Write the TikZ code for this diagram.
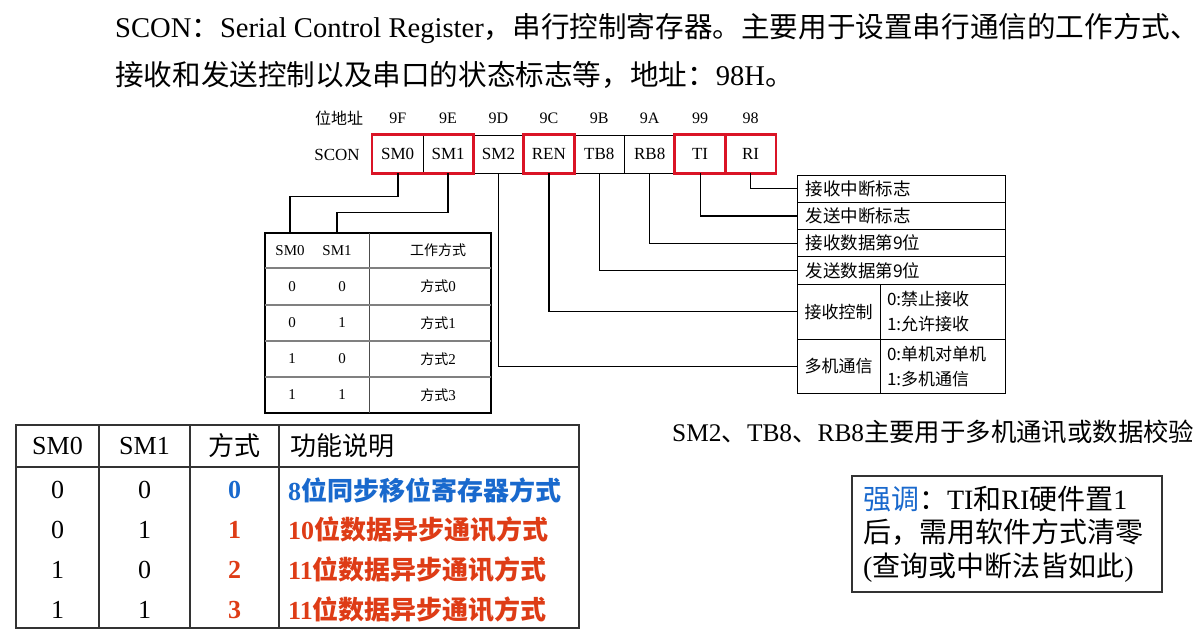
\documentclass[tikz,border=0pt]{standalone}
\usepackage{fontspec}
\setmainfont{Liberation Serif}
\newfontfamily\cjk{Noto Sans CJK SC}
\usetikzlibrary{positioning}
\definecolor{modeblue}{RGB}{25,105,205}
\definecolor{modered}{RGB}{222,60,22}
\definecolor{boxred}{RGB}{218,20,38}
\begin{document}
\begin{tikzpicture}[x=1pt, y=-1pt,
  title/.style={anchor=west, inner sep=0pt, font=\fontsize{28.6}{32}\selectfont},
  bitcell/.style={draw=black, line width=0.8pt, minimum width=50.4pt, minimum height=38pt, inner sep=0pt, font=\fontsize{17}{20}\selectfont},
  addr/.style={inner sep=0pt, font=\fontsize{16}{18}\selectfont},
  redbox/.style={draw=boxred, line width=2.6pt},
  line/.style={draw=black, line width=1.2pt},
  feed/.style={draw=black, line width=1.8pt},
  desc/.style={draw=black, line width=1pt, minimum height=27.3pt, text width=192pt, inner xsep=8pt, align=left, anchor=west, font=\cjk\fontsize{17.5}{20}\selectfont},
  sidecell/.style={draw=black, line width=1pt, inner xsep=7pt, font=\cjk\fontsize{17}{25}\selectfont},
  small/.style={inner sep=0pt, minimum height=35pt, font=\fontsize{15}{17}\selectfont},
  headcell/.style={draw=black!80, line width=1.4pt, minimum height=42pt, inner sep=0pt, font=\fontsize{26}{30}\selectfont},
  bodycell/.style={draw=black!80, line width=1.4pt, minimum height=161pt, inner sep=0pt},
  val/.style={inner sep=0pt, font=\fontsize{26}{30}\selectfont},
  func/.style={anchor=west, inner sep=0pt, font=\bfseries\fontsize{26}{30}\selectfont}
]
\fill[white] (0,0) rectangle (1204,632);
\useasboundingbox (0,0) rectangle (1204,632);

% heading
\node[title] (head1) at (115,28) {SCON{\cjk ：}Serial Control Register{\cjk ，串行控制寄存器。主要用于设置串行通信的工作方式、}};
\node[title] (head2) at (115,75) {{\cjk 接收和发送控制以及串口的状态标志等，地址：}98H{\cjk 。}};

% register SCON
\node[addr] (bitaddr) at (339,118) {\cjk 位地址};
\node[addr, font=\fontsize{17}{20}\selectfont] (scon) at (337,155) {SCON};
\node[bitcell] (sm0) at (397.7,154) {SM0};
\node[bitcell] (sm1) at (448.1,154) {SM1};
\node[bitcell] (sm2) at (498.5,154) {SM2};
\node[bitcell] (ren) at (548.9,154) {REN};
\node[bitcell] (tb8) at (599.3,154) {TB8};
\node[bitcell] (rb8) at (649.7,154) {RB8};
\node[bitcell] (ti) at (700.1,154) {TI};
\node[bitcell] (ri) at (750.5,154) {RI};
\node[addr] (a9f) at (397.7,118) {9F};
\node[addr] (a9e) at (448.1,118) {9E};
\node[addr] (a9d) at (498.5,118) {9D};
\node[addr] (a9c) at (548.9,118) {9C};
\node[addr] (a9b) at (599.3,118) {9B};
\node[addr] (a9a) at (649.7,118) {9A};
\node[addr] (a99) at (700.1,118) {99};
\node[addr] (a98) at (750.5,118) {98};
\draw[redbox] (sm0.north west) rectangle (sm1.south east);
\draw[redbox] (ren.north west) rectangle (ren.south east);
\draw[redbox] (ti.north west) rectangle (ti.south east);
\draw[redbox] (ri.north west) rectangle (ri.south east);

% bit meanings
\node[desc] (rirow) at (797,188.65) {接收中断标志};
\node[desc] (tirow) at (797,215.95) {发送中断标志};
\node[desc] (rb8row) at (797,243.25) {接收数据第9位};
\node[desc] (tb8row) at (797,270.55) {发送数据第9位};
\node[sidecell, minimum width=83pt, minimum height=55pt] (renrow) at (838.5,311.7) {接收控制};
\node[sidecell, minimum width=125pt, minimum height=55pt, text width=111pt, align=left] (renval) at (942.5,311.7) {0:禁止接收\\1:允许接收};
\node[sidecell, minimum width=83pt, minimum height=54pt] (sm2row) at (838.5,366.2) {多机通信};
\node[sidecell, minimum width=125pt, minimum height=54pt, text width=111pt, align=left] (sm2val) at (942.5,366.2) {0:单机对单机\\1:多机通信};

\draw[line] (ri.south) |- (rirow.west);
\draw[line] (ti.south) |- (tirow.west);
\draw[line] (rb8.south) |- (rb8row.west);
\draw[line] (tb8.south) |- (tb8row.west);
\draw[line] (ren.south) |- (renrow.west);
\draw[line] (sm2.south) |- (sm2row.west);

% mode table (small)
\node[draw=black, line width=1.6pt, minimum width=226pt, minimum height=180pt] (modetbl) at (378,323) {};
\draw[black!70, line width=1pt] (369,233) -- (369,413);
\draw[gray, line width=1.2pt] (265,268) -- (491,268);
\draw[gray, line width=1.2pt] (265,305) -- (491,305);
\draw[gray, line width=1.2pt] (265,341) -- (491,341);
\draw[gray, line width=1.2pt] (265,377) -- (491,377);
\node[small] (hsm0) at (290,250.5) {SM0};
\node[small] (hsm1) at (337,250.5) {SM1};
\node[small, font=\cjk\fontsize{14}{16}\selectfont] (hmode) at (438,250.5) {工作方式};
\node[small] (m00) at (292,286.5) {0};
\node[small] (m01) at (342,286.5) {0};
\node[small] (m02) at (438,286.5) {{\cjk\fontsize{14}{16}\selectfont 方式}0};
\node[small] (m10) at (292,323) {0};
\node[small] (m11) at (342,323) {1};
\node[small] (m12) at (438,323) {{\cjk\fontsize{14}{16}\selectfont 方式}1};
\node[small] (m20) at (292,359) {1};
\node[small] (m21) at (342,359) {0};
\node[small] (m22) at (438,359) {{\cjk\fontsize{14}{16}\selectfont 方式}2};
\node[small] (m30) at (292,395) {1};
\node[small] (m31) at (342,395) {1};
\node[small] (m32) at (438,395) {{\cjk\fontsize{14}{16}\selectfont 方式}3};
\draw[feed] (sm0.south) -- ++(0,23) -| (hsm0.north);
\draw[feed] (sm1.south) -- ++(0,39) -| (hsm1.north);

% note on SM2, TB8, RB8
\node[anchor=west, inner sep=0pt, font=\fontsize{25.4}{30}\selectfont] (multinote) at (672,432) {SM2{\cjk 、}TB8{\cjk 、}RB8{\cjk 主要用于多机通讯或数据校验}};

% summary table
\node[headcell, minimum width=83pt] (tsm0) at (57.5,446) {SM0};
\node[headcell, minimum width=91pt] (tsm1) at (144.5,446) {SM1};
\node[headcell, minimum width=89pt, font=\cjk\fontsize{26}{30}\selectfont] (tmode) at (234.5,446) {方式};
\node[headcell, minimum width=300pt, text width=278pt, align=left, font=\cjk\fontsize{26}{30}\selectfont] (tfunc) at (429,446) {功能说明};
\node[bodycell, minimum width=83pt] (bsm0) at (57.5,547.5) {};
\node[bodycell, minimum width=91pt] (bsm1) at (144.5,547.5) {};
\node[bodycell, minimum width=89pt] (bmode) at (234.5,547.5) {};
\node[bodycell, minimum width=300pt] (bfunc) at (429,547.5) {};

\node[val] (s00) at (57.5,490) {0};
\node[val] (s01) at (144.5,490) {0};
\node[val, font=\bfseries\fontsize{26}{30}\selectfont, text=modeblue] (s02) at (234.5,490) {0};
\node[func, text=modeblue] (s03) at (288,490) {8{\cjk 位同步移位寄存器方式}};
\node[val] (s10) at (57.5,530) {0};
\node[val] (s11) at (144.5,530) {1};
\node[val, font=\bfseries\fontsize{26}{30}\selectfont, text=modered] (s12) at (234.5,530) {1};
\node[func, text=modered] (s13) at (288,530) {10{\cjk 位数据异步通讯方式}};
\node[val] (s20) at (57.5,570) {1};
\node[val] (s21) at (144.5,570) {0};
\node[val, font=\bfseries\fontsize{26}{30}\selectfont, text=modered] (s22) at (234.5,570) {2};
\node[func, text=modered] (s23) at (288,570) {11{\cjk 位数据异步通讯方式}};
\node[val] (s30) at (57.5,610) {1};
\node[val] (s31) at (144.5,610) {1};
\node[val, font=\bfseries\fontsize{26}{30}\selectfont, text=modered] (s32) at (234.5,610) {3};
\node[func, text=modered] (s33) at (288,610) {11{\cjk 位数据异步通讯方式}};

% reminder box
\node[draw=black!80, line width=1.4pt, minimum width=310pt, minimum height=116pt, text width=288pt, inner xsep=11pt, align=left, font=\fontsize{28}{33.5}\selectfont] (remind) at (1007,534) {{\cjk\color{modeblue}强调}{\cjk ：}TI{\cjk 和}RI{\cjk 硬件置}1\\{\cjk 后，需用软件方式清零}\\({\cjk 查询或中断法皆如此})};
\end{tikzpicture}
\end{document}
